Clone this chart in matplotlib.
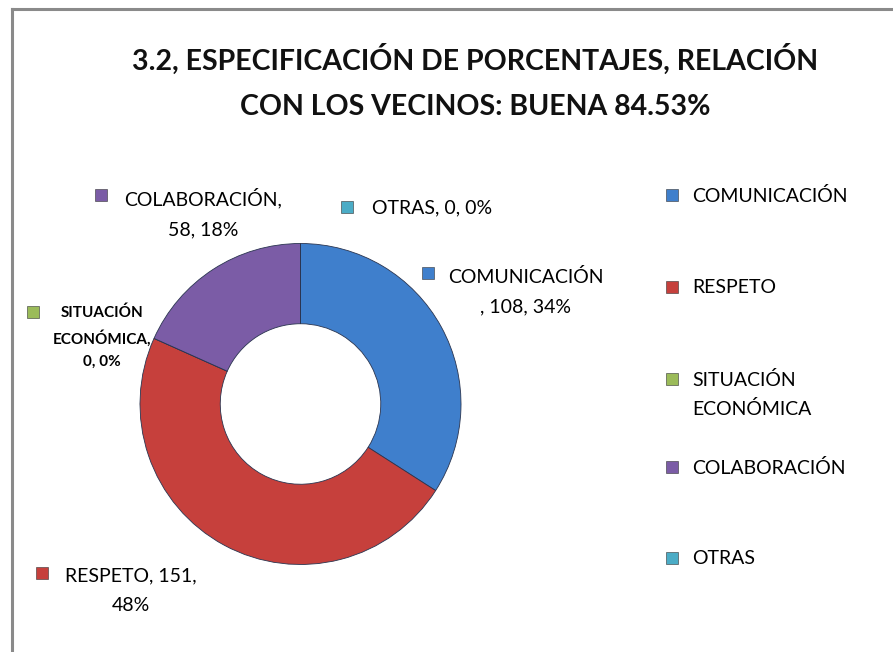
import matplotlib
matplotlib.use("Agg")
import matplotlib.pyplot as plt
from matplotlib.lines import Line2D

categories = ["COMUNICACIÓN", "RESPETO", "SITUACIÓN ECONÓMICA", "COLABORACIÓN", "OTRAS"]
values = [108, 151, 0, 58, 0]
percents = ["34%", "48%", "0%", "18%", "0%"]
colors = ["#3F7FCC", "#C6403C", "#9BBB59", "#7B5CA6", "#4BACC6"]
legend_labels = ["COMUNICACIÓN", "RESPETO", "SITUACIÓN\nECONÓMICA", "COLABORACIÓN", "OTRAS"]
title = "3.2, ESPECIFICACIÓN DE PORCENTAJES, RELACIÓN\nCON LOS VECINOS: BUENA 84.53%"

W, H = 893, 652
fig = plt.figure(figsize=(W / 100, H / 100), dpi=100)
plt.rcParams['font.family'] = ['Lato', 'DejaVu Sans']


def fx(x):
    return x / W


def fy(y):
    return 1 - y / H


# border (gray frame lines)
fig.add_artist(Line2D([fx(12), fx(W)], [fy(9), fy(9)], color="#8a8a8a", lw=2.2, transform=fig.transFigure))
fig.add_artist(Line2D([fx(12), fx(12)], [fy(9), fy(H)], color="#8a8a8a", lw=2.2, transform=fig.transFigure))

# title
fig.text(fx(475), fy(82), title, ha="center", va="center", fontsize=20.5, fontweight="bold",
         linespacing=1.9, color="#111111")

# donut
ax = fig.add_axes([fx(140), fy(583), (461 - 140) / W, (583 - 225) / H])
ax.pie(values, colors=colors, startangle=90, counterclock=False,
       wedgeprops=dict(width=0.5, edgecolor="#2a3550", linewidth=0.6))
ax.set_xlim(-1.0, 1.0)
ax.set_ylim(-1.0, 1.0)
ax.set_axis_off()


def marker(x, y, c):
    fig.add_artist(Line2D([fx(x)], [fy(y)], marker="s", ms=8.5, mfc=c, mec="#333333", mew=0.4,
                          linestyle="none", transform=fig.transFigure))


fs = 14
ls = 1.9

# COLABORACIÓN
marker(101, 195, colors[3])
fig.text(fx(203), fy(213), f"{categories[3]},\n{values[3]}, {percents[3]}", ha="center", va="center",
         fontsize=fs, linespacing=ls)
# OTRAS
marker(347, 207, colors[4])
fig.text(fx(372), fy(208), f"{categories[4]}, {values[4]}, {percents[4]}", ha="left", va="center", fontsize=fs)
# COMUNICACIÓN
marker(428, 273, colors[0])
fig.text(fx(526), fy(292), f"{categories[0]}\n, {values[0]}, {percents[0]}", ha="center", va="center",
         fontsize=fs, linespacing=ls)
# SITUACIÓN ECONÓMICA
marker(33, 312, colors[2])
fig.text(fx(102), fy(337), f"SITUACIÓN\nECONÓMICA,\n{values[2]}, {percents[2]}", ha="center", va="center",
         fontsize=11, fontweight="bold", linespacing=1.75)
# RESPETO
marker(42, 573, colors[1])
fig.text(fx(131), fy(591), f"{categories[1]}, {values[1]},\n{percents[1]}", ha="center", va="center",
         fontsize=fs, linespacing=ls)

# legend
leg_y = [195, 287, 379, 467, 558]
for lbl, c, y in zip(legend_labels, colors, leg_y):
    marker(672, y, c)
    fig.text(fx(692), fy(y - 8), lbl, ha="left", va="top", fontsize=fs, linespacing=1.75)

fig.savefig("out.png", dpi=100)
